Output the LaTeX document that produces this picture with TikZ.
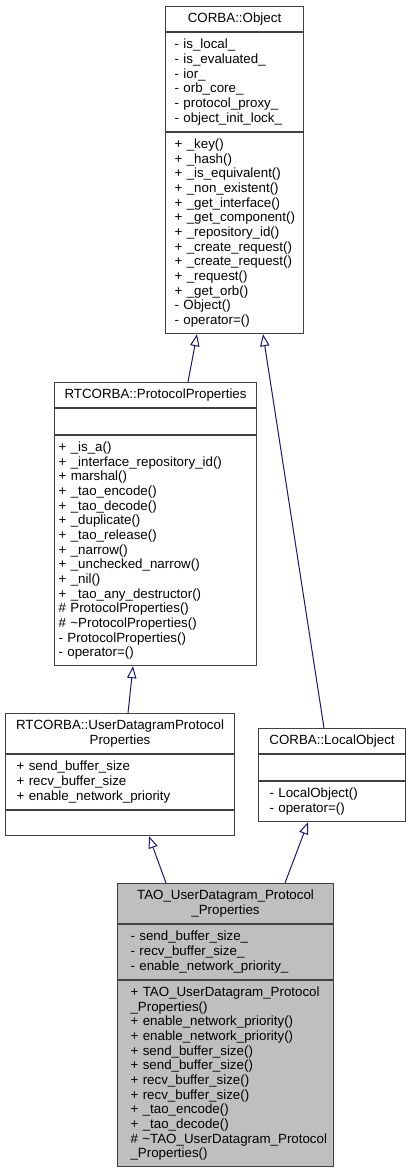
\documentclass[tikz,border=0pt]{standalone}
\usepackage{fontspec}
\setmainfont{Liberation Sans}
\usetikzlibrary{arrows.meta,calc}
\definecolor{borda}{RGB}{64,64,64}
\definecolor{azul}{RGB}{25,25,112}
\definecolor{cinza}{RGB}{191,191,191}

\begin{document}
\begin{tikzpicture}[x=0.75pt, y=-0.75pt, %Escala: 1 px = 0.75 pt, eixo y para baixo
		font=\fontsize{10}{11}\selectfont,
		titulo/.style 2 args={draw=borda, line width=0.8pt, anchor=north west, inner sep=0pt, align=center,
			minimum width={#1*0.75pt}, minimum height={#2*0.75pt}},
		membros/.style n args={3}{draw=borda, line width=0.8pt, anchor=north west, inner sep=0pt, align=left,
			text width={#1*0.75pt}, minimum height={#2*0.75pt}, execute at begin node={\leftskip=#3\relax}},
		heranca/.style={draw=azul, line width=0.75pt, -{Triangle[open, length=9pt, width=7pt]}}]
	\useasboundingbox (0,0) rectangle (411,1171); %Margens
		%CORBA::Object
	\node[titulo={138}{25}] (objT) at (165,6) {CORBA::Object};
	\node[membros={138}{99}{6.75pt}] (objA) at (objT.south west) {- is\_local\_\\- is\_evaluated\_\\- ior\_\\- orb\_core\_\\- protocol\_proxy\_\\- object\_init\_lock\_};
	\node[membros={138}{201}{6.75pt}] (objM) at (objA.south west) {+ \_key()\\+ \_hash()\\+ \_is\_equivalent()\\+ \_non\_existent()\\+ \_get\_interface()\\+ \_get\_component()\\+ \_repository\_id()\\+ \_create\_request()\\+ \_create\_request()\\+ \_request()\\+ \_get\_orb()\\- Object()\\- operator=()};
		%RTCORBA::ProtocolProperties
	\node[titulo={202}{25}] (ppT) at (54,382) {RTCORBA::ProtocolProperties};
	\node[membros={202}{26}{3pt}] (ppA) at (ppT.south west) {};
	\node[membros={202}{230}{3pt}] (ppM) at (ppA.south west) {+ \_is\_a()\\+ \_interface\_repository\_id()\\+ marshal()\\+ \_tao\_encode()\\+ \_tao\_decode()\\+ \_duplicate()\\+ \_tao\_release()\\+ \_narrow()\\+ \_unchecked\_narrow()\\+ \_nil()\\+ \_tao\_any\_destructor()\\\# ProtocolProperties()\\\# \textasciitilde ProtocolProperties()\\- ProtocolProperties()\\- operator=()};
		%RTCORBA::UserDatagramProtocolProperties
	\node[titulo={229}{40}] (udT) at (5,713) {RTCORBA::UserDatagramProtocol\\Properties};
	\node[membros={229}{55}{8.25pt}] (udA) at (udT.south west) {+ send\_buffer\_size\\+ recv\_buffer\_size\\+ enable\_network\_priority};
	\node[membros={229}{25}{8.25pt}] (udM) at (udA.south west) {};
		%CORBA::LocalObject
	\node[titulo={147}{25}] (loT) at (258,728) {CORBA::LocalObject};
	\node[membros={147}{26}{8.25pt}] (loA) at (loT.south west) {};
	\node[membros={147}{40}{8.25pt}] (loM) at (loA.south west) {- LocalObject()\\- operator=()};
		%TAO_UserDatagram_Protocol_Properties
	\node[titulo={216}{40}, fill=cinza] (taoT) at (117,883) {TAO\_UserDatagram\_Protocol\\\_Properties};
	\node[membros={216}{55}{9.75pt}, fill=cinza] (taoA) at (taoT.south west) {- send\_buffer\_size\_\\- recv\_buffer\_size\_\\- enable\_network\_priority\_};
	\node[membros={216}{186}{9.75pt}, fill=cinza] (taoM) at (taoA.south west) {+ TAO\_UserDatagram\_Protocol\\\_Properties()\\+ enable\_network\_priority()\\+ enable\_network\_priority()\\+ send\_buffer\_size()\\+ send\_buffer\_size()\\+ recv\_buffer\_size()\\+ recv\_buffer\_size()\\+ \_tao\_encode()\\+ \_tao\_decode()\\\# \textasciitilde TAO\_UserDatagram\_Protocol\\\_Properties()};
		%Heranca
	\draw[heranca] ($(ppT.north west)+(134,0)$) -- ($(objM.south west)+(32,0)$);
	\draw[heranca] ($(loT.north west)+(66,0)$) -- ($(objM.south west)+(98,0)$);
	\draw[heranca] ($(udT.north west)+(123,0)$) -- ($(ppM.south west)+(79,0)$);
	\draw[heranca] ($(taoT.north west)+(49,0)$) -- ($(udM.south west)+(144,0)$);
	\draw[heranca] ($(taoT.north west)+(168,0)$) -- ($(loM.south west)+(50,0)$);
\end{tikzpicture}
\end{document}
